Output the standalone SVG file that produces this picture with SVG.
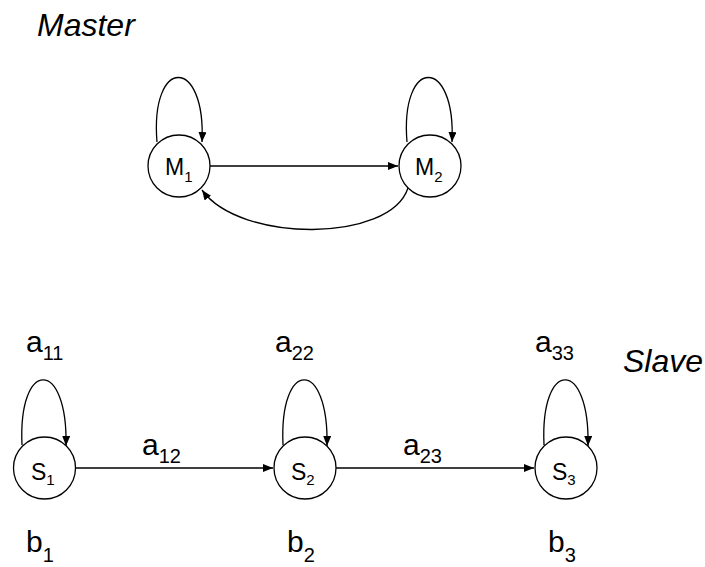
<svg xmlns="http://www.w3.org/2000/svg" width="705" height="567" viewBox="0 0 705 567">
<style>
.n{fill:#fff;stroke:#000;stroke-width:1.3}
.e{fill:none;stroke:#000;stroke-width:1.3}
.t{font-family:"Liberation Sans",Arial,sans-serif;fill:#000}
.nl{font-size:23px}
.ns{font-size:15px}
.lb{font-size:30px}
.ls{font-size:20px}
.h{font-size:32px;font-style:italic}
</style>
<defs>
<marker id="ah" viewBox="0 0 10 8" refX="10" refY="4" markerWidth="10" markerHeight="8" markerUnits="userSpaceOnUse" orient="auto">
<path d="M0,0 L10,4 L0,8 z" fill="#000"/>
</marker>
</defs>
<rect width="705" height="567" fill="#fff"/>
<text class="t h" x="37" y="36">Master</text>
<text class="t h" x="623" y="372">Slave</text>
<g id="connectors">
<path class="e" d="M157,142 C150,56 206,56 202,142" marker-end="url(#ah)"/>
<path class="e" d="M407,142 C400,56 456,56 452,142" marker-end="url(#ah)"/>
<path class="e" d="M210,166 L398,166" marker-end="url(#ah)"/>
<path class="e" d="M408,188 C390,243 240,243 202,190" marker-end="url(#ah)"/>
<path class="e" d="M22,445 C18,358 68,358 66,446" marker-end="url(#ah)"/>
<path class="e" d="M283,445 C279,358 329,358 327,446" marker-end="url(#ah)"/>
<path class="e" d="M544,445 C540,358 590,358 588,446" marker-end="url(#ah)"/>
<path class="e" d="M76,468 L273,468" marker-end="url(#ah)"/>
<path class="e" d="M336,468 L534,468" marker-end="url(#ah)"/>
</g>
<g id="M1"><circle class="n" cx="179" cy="166" r="31"/><text class="t nl" x="165" y="175">M<tspan class="ns" dy="7">1</tspan></text></g>
<g id="M2"><circle class="n" cx="430" cy="166" r="31"/><text class="t nl" x="415" y="175">M<tspan class="ns" dy="7">2</tspan></text></g>
<g id="S1"><circle class="n" cx="44.5" cy="468" r="31"/><text class="t nl" x="31" y="480">S<tspan class="ns" dy="5">1</tspan></text></g>
<g id="S2"><circle class="n" cx="305" cy="468" r="31"/><text class="t nl" x="291" y="480">S<tspan class="ns" dy="5">2</tspan></text></g>
<g id="S3"><circle class="n" cx="566" cy="468" r="31"/><text class="t nl" x="552" y="480">S<tspan class="ns" dy="5">3</tspan></text></g>
<g id="labels">
<text class="t lb" x="26" y="352">a<tspan class="ls" dy="8">11</tspan></text>
<text class="t lb" x="275" y="352">a<tspan class="ls" dy="8">22</tspan></text>
<text class="t lb" x="535" y="352">a<tspan class="ls" dy="8">33</tspan></text>
<text class="t lb" x="142" y="455">a<tspan class="ls" dy="8">12</tspan></text>
<text class="t lb" x="403" y="455">a<tspan class="ls" dy="8">23</tspan></text>
<text class="t lb" x="26" y="552">b<tspan class="ls" dy="10">1</tspan></text>
<text class="t lb" x="287" y="552">b<tspan class="ls" dy="10">2</tspan></text>
<text class="t lb" x="548" y="552">b<tspan class="ls" dy="10">3</tspan></text>
</g>
</svg>
